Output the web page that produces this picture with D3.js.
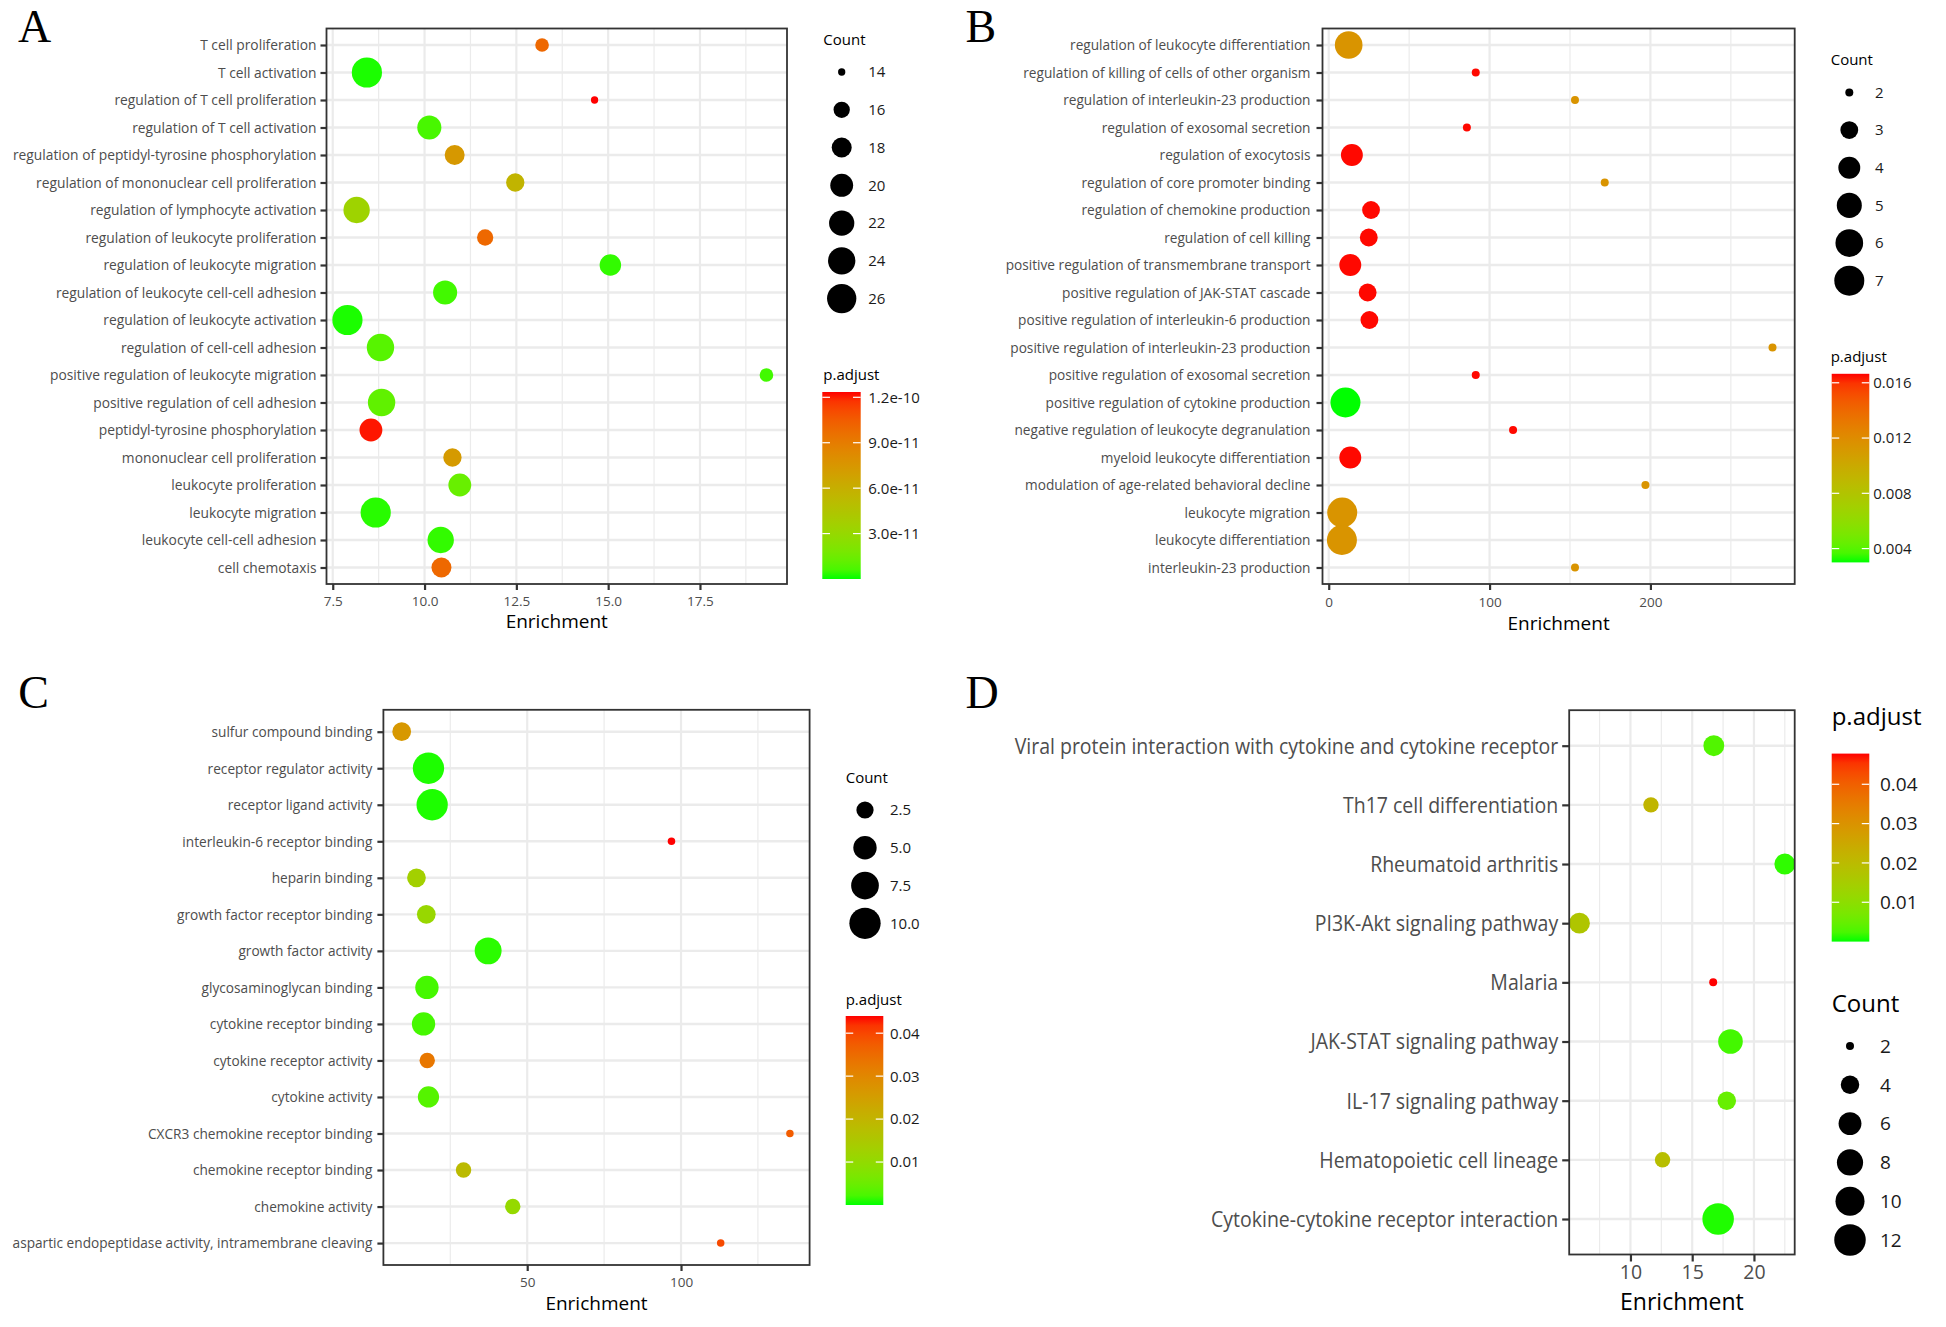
<!DOCTYPE html>
<html><head><meta charset="utf-8">
<script src="https://cdn.jsdelivr.net/npm/d3@7"></script>
<style>body{margin:0;background:#fff}</style>
</head><body>
<script>
// ================= DATA =================
// Panel A
const termsA = ["T cell proliferation","T cell activation","regulation of T cell proliferation","regulation of T cell activation","regulation of peptidyl-tyrosine phosphorylation","regulation of mononuclear cell proliferation","regulation of lymphocyte activation","regulation of leukocyte proliferation","regulation of leukocyte migration","regulation of leukocyte cell-cell adhesion","regulation of leukocyte activation","regulation of cell-cell adhesion","positive regulation of leukocyte migration","positive regulation of cell adhesion","peptidyl-tyrosine phosphorylation","mononuclear cell proliferation","leukocyte proliferation","leukocyte migration","leukocyte cell-cell adhesion","cell chemotaxis"];
const enrichA = [13.2,8.43,14.63,10.13,10.82,12.47,8.15,11.65,15.06,10.56,7.9,8.8,19.31,8.83,8.54,10.76,10.96,8.67,10.44,10.46];
const countA  = [15,27,14,21,18,17,23,16,19,21,27,24,15,24,20,17,20,27,23,18];
const padjA   = [1.0e-10,1e-12,1.235e-10,6e-12,7.4e-11,5.6e-11,3.4e-11,1.0e-10,3e-12,5e-12,1e-12,9e-12,5e-12,1.1e-11,1.22e-10,7.3e-11,1.3e-11,2e-12,3e-12,1.0e-10];
const ticksA = [7.5,10,12.5,15,17.5];
const tickLabelsA = ["7.5","10.0","12.5","15.0","17.5"];
const sizeBreaksA = [14,16,18,20,22,24,26];
const sizeLabelsA = ["14","16","18","20","22","24","26"];
const colorBreaksA = [3e-11,6e-11,9e-11,1.2e-10];
const colorLabelsA = ["3.0e-11","6.0e-11","9.0e-11","1.2e-10"];

// Panel B
const termsB = ["regulation of leukocyte differentiation","regulation of killing of cells of other organism","regulation of interleukin-23 production","regulation of exosomal secretion","regulation of exocytosis","regulation of core promoter binding","regulation of chemokine production","regulation of cell killing","positive regulation of transmembrane transport","positive regulation of JAK-STAT cascade","positive regulation of interleukin-6 production","positive regulation of interleukin-23 production","positive regulation of exosomal secretion","positive regulation of cytokine production","negative regulation of leukocyte degranulation","myeloid leukocyte differentiation","modulation of age-related behavioral decline","leukocyte migration","leukocyte differentiation","interleukin-23 production"];
const enrichB = [12.4,91.4,153.1,85.9,14.4,171.6,26.3,24.9,13.4,24.2,25.3,275.9,91.4,10.4,114.6,13.4,196.9,8.4,8.2,153.1];
const countB  = [6,2,2,2,4,2,3,3,4,3,3,2,2,7,2,4,2,7,7,2];
const padjB   = [0.0115,0.0166,0.0115,0.0166,0.0166,0.0115,0.0166,0.0166,0.0166,0.0166,0.0166,0.0115,0.0166,0.003,0.0166,0.0166,0.0115,0.0115,0.0115,0.0115];
const ticksB = [0,100,200];
const tickLabelsB = ["0","100","200"];
const sizeBreaksB = [2,3,4,5,6,7];
const sizeLabelsB = ["2","3","4","5","6","7"];
const colorBreaksB = [0.004,0.008,0.012,0.016];
const colorLabelsB = ["0.004","0.008","0.012","0.016"];

// Panel C
const termsC = ["sulfur compound binding","receptor regulator activity","receptor ligand activity","interleukin-6 receptor binding","heparin binding","growth factor receptor binding","growth factor activity","glycosaminoglycan binding","cytokine receptor binding","cytokine receptor activity","cytokine activity","CXCR3 chemokine receptor binding","chemokine receptor binding","chemokine activity","aspartic endopeptidase activity, intramembrane cleaving"];
const enrichC = [9.2,17.9,19.1,96.9,14.0,17.2,37.3,17.4,16.3,17.5,17.9,135.4,29.3,45.3,112.9];
const countC  = [3,10,10,1,3,3,7,5,5,2,4,1,2,2,1];
const padjC   = [0.0265,0.0004,0.0004,0.044,0.013,0.011,0.0008,0.002,0.002,0.033,0.003,0.0374,0.0185,0.0105,0.0396];
const ticksC = [50,100];
const tickLabelsC = ["50","100"];
const sizeBreaksC = [2.5,5,7.5,10];
const sizeLabelsC = ["2.5","5.0","7.5","10.0"];
const colorBreaksC = [0.01,0.02,0.03,0.04];
const colorLabelsC = ["0.01","0.02","0.03","0.04"];

// Panel D
const termsD = ["Viral protein interaction with cytokine and cytokine receptor","Th17 cell differentiation","Rheumatoid arthritis","PI3K-Akt signaling pathway","Malaria","JAK-STAT signaling pathway","IL-17 signaling pathway","Hematopoietic cell lineage","Cytokine-cytokine receptor interaction"];
const enrichD = [16.75,11.66,22.5,5.87,16.7,18.1,17.8,12.6,17.1];
const countD  = [5,3,5,5,2,7,4,3,12];
const padjD   = [0.003,0.0215,0.001,0.017,0.0478,0.002,0.005,0.019,0.0005];
const ticksD = [10,15,20];
const tickLabelsD = ["10","15","20"];
const sizeBreaksD = [2,4,6,8,10,12];
const sizeLabelsD = ["2","4","6","8","10","12"];
const colorBreaksD = [0.01,0.02,0.03,0.04];
const colorLabelsD = ["0.01","0.02","0.03","0.04"];

// ================= LAYOUT =================
const FONT = "'Open Sans','Noto Sans',sans-serif";
const W = 1946, H = 1327;
const svg = d3.select("body").append("svg").attr("width",W).attr("height",H).style("display","block");
svg.append("rect").attr("width",W).attr("height",H).attr("fill","#fff");
const defs = svg.append("defs");

const panels = [
 {id:"A", letter:[18,42], terms:termsA, enrich:enrichA, count:countA, padj:padjA,
  l:326.5, r:787, t:28.5, b:584, xDomain:[7.33,19.87], ticks:ticksA, tickLabels:tickLabelsA,
  labelSize:14, labelGap:10, labelTarget:304, tickLen:6, tickFont:13.5, tickBase:606, titleFont:19, titleBase:628.3,
  cMin:14, cMax:27, rMin:3.65, rMax:15.1, pDomain:[0,1.235e-10],
  sizeLeg:{tx:823.3, ty:45.1, cx:841.7, lx:868.3, y0:72, y1:298.6, breaks:sizeBreaksA, labels:sizeLabelsA, font:15, tfont:15},
  colLeg:{tx:823.3, ty:379.8, x0:822.3, x1:860.7, y0:392, y1:579, lx:868.3, breaks:colorBreaksA, labels:colorLabelsA, font:15, tfont:15}},
 {id:"B", letter:[965.4,42], terms:termsB, enrich:enrichB, count:countB, padj:padjB,
  l:1322.5, r:1794.7, t:28.5, b:584, xDomain:[-3.87,289.7], ticks:ticksB, tickLabels:tickLabelsB,
  labelSize:14, labelGap:12, labelTarget:305, tickLen:6, tickFont:13.5, tickBase:606.7, titleFont:19, titleBase:630,
  cMin:2, cMax:7, rMin:4, rMax:15, pDomain:[0.003,0.01665],
  sizeLeg:{tx:1830.7, ty:64.8, cx:1849.3, lx:1875, y0:92.4, y1:280.7, breaks:sizeBreaksB, labels:sizeLabelsB, font:15, tfont:15},
  colLeg:{tx:1830.7, ty:362.4, x0:1831.7, x1:1869.3, y0:373.8, y1:562.4, lx:1873.3, breaks:colorBreaksB, labels:colorLabelsB, font:15, tfont:15}},
 {id:"C", letter:[18.3,708.3], terms:termsC, enrich:enrichC, count:countC, padj:padjC,
  l:383.4, r:809.6, t:709.8, b:1265, xDomain:[3.25,141.8], ticks:ticksC, tickLabels:tickLabelsC,
  labelSize:14, labelGap:11, labelTarget:360, tickLen:6, tickFont:13.5, tickBase:1286.7, titleFont:19, titleBase:1310,
  cMin:1, cMax:10, rMin:3.75, rMax:15.65, pDomain:[0,0.044],
  sizeLeg:{tx:845.7, ty:783.3, cx:865, lx:890, y0:810, y1:923.3, breaks:sizeBreaksC, labels:sizeLabelsC, font:15, tfont:15},
  colLeg:{tx:845.7, ty:1005, x0:845.7, x1:883.3, y0:1016, y1:1205, lx:890, breaks:colorBreaksC, labels:colorLabelsC, font:15, tfont:15}},
 {id:"D", letter:[965.4,708], terms:termsD, enrich:enrichD, count:countD, padj:padjD,
  l:1569.2, r:1794.7, t:710.2, b:1254.5, xDomain:[5.04,23.3], ticks:ticksD, tickLabels:tickLabelsD,
  labelSize:21, labelGap:11, labelTarget:544, tickLen:7, tickFont:19.5, tickBase:1279, titleFont:23, titleBase:1310,
  cMin:2, cMax:12, rMin:4, rMax:15.75, pDomain:[0,0.0478],
  sizeLeg:{tx:1831.7, ty:1011.8, cx:1850, lx:1880, y0:1046, y1:1240, breaks:sizeBreaksD, labels:sizeLabelsD, font:19, tfont:24},
  colLeg:{tx:1831.7, ty:724.5, x0:1831.7, x1:1869.3, y0:753.6, y1:941.6, lx:1880, breaks:colorBreaksD, labels:colorLabelsD, font:19, tfont:24}}
];

function maxTextWidth(sel){
  let m = 0;
  sel.each(function(){ m = Math.max(m, this.getComputedTextLength()); });
  return m;
}

function drawPanel(p){
  const g = svg.append("g").attr("class","panel-"+p.id);
  const x = d3.scaleLinear().domain(p.xDomain).range([p.l, p.r]);
  const y = d3.scalePoint().domain(p.terms).range([p.t, p.b]).padding(0.6);
  const rS = d3.scaleSqrt().domain([0, p.cMax - p.cMin]).range([0, p.rMax - p.rMin]);
  const rad = c => p.rMin + rS(Math.max(0, c - p.cMin));
  const col = d3.scaleLinear().domain(p.pDomain).range(["#00ff00","#ff0000"]).interpolate(d3.interpolateLab).clamp(true);

  // panel letter
  svg.append("text").attr("x",p.letter[0]).attr("y",p.letter[1])
    .attr("font-family","'Liberation Serif','Times New Roman',serif").attr("font-size",46).attr("fill","#000").text(p.id);

  // grid
  const step = p.ticks.length > 1 ? p.ticks[1]-p.ticks[0] : 1;
  const minors = d3.range(-6, 12).map(k => p.ticks[0] - step/2 + k*step)
                   .filter(v => v > p.xDomain[0] && v < p.xDomain[1]);
  g.append("g").selectAll("line").data(minors).join("line")
    .attr("x1",d=>x(d)).attr("x2",d=>x(d)).attr("y1",p.t).attr("y2",p.b)
    .attr("stroke","#ebebeb").attr("stroke-width",1.2);
  g.append("g").selectAll("line").data(p.ticks).join("line")
    .attr("x1",d=>x(d)).attr("x2",d=>x(d)).attr("y1",p.t).attr("y2",p.b)
    .attr("stroke","#ebebeb").attr("stroke-width",2.2);
  g.append("g").selectAll("line").data(p.terms).join("line")
    .attr("x1",p.l).attr("x2",p.r).attr("y1",d=>y(d)).attr("y2",d=>y(d))
    .attr("stroke","#ebebeb").attr("stroke-width",2.4);

  // points
  const clipId = "clip"+p.id;
  defs.append("clipPath").attr("id",clipId).append("rect")
    .attr("x",p.l).attr("y",p.t).attr("width",p.r-p.l).attr("height",p.b-p.t);
  g.append("g").attr("clip-path",`url(#${clipId})`).selectAll("circle")
    .data(d3.range(p.terms.length)).join("circle")
    .attr("cx",i=>x(p.enrich[i])).attr("cy",i=>y(p.terms[i]))
    .attr("r",i=>rad(p.count[i])).attr("fill",i=>col(p.padj[i]));

  // frame
  g.append("rect").attr("x",p.l).attr("y",p.t).attr("width",p.r-p.l).attr("height",p.b-p.t)
    .attr("fill","none").attr("stroke","#333").attr("stroke-width",1.8);

  // y axis
  const ya = g.append("g").attr("transform",`translate(${p.l},0)`)
    .call(d3.axisLeft(y).tickSize(p.tickLen).tickPadding(4));
  ya.select(".domain").remove();
  ya.selectAll(".tick line").attr("stroke","#333").attr("stroke-width",2.2);
  const yt = ya.selectAll(".tick text").attr("x",0).attr("dy","0.35em")
    .attr("font-family",FONT).attr("font-size",p.labelSize).attr("fill","#4d4d4d").attr("text-anchor","end");
  let kx = p.labelTarget / maxTextWidth(yt);
  kx = Math.max(0.8, Math.min(1.2, kx));
  yt.attr("transform",`translate(${-p.labelGap},0) scale(${kx},1)`);

  // x axis
  const xa = g.append("g").attr("transform",`translate(0,${p.b})`)
    .call(d3.axisBottom(x).tickValues(p.ticks).tickFormat((d,i)=>p.tickLabels[i]).tickSize(p.tickLen));
  xa.select(".domain").remove();
  xa.selectAll(".tick line").attr("stroke","#333").attr("stroke-width",2.2);
  xa.selectAll(".tick text").attr("y",p.tickBase - p.b).attr("dy",0)
    .attr("font-family",FONT).attr("font-size",p.tickFont).attr("fill","#4d4d4d");

  g.append("text").attr("x",(p.l+p.r)/2).attr("y",p.titleBase).attr("text-anchor","middle")
    .attr("font-family",FONT).attr("font-size",p.titleFont).attr("fill","#000").text("Enrichment");

  // size legend
  const s = p.sizeLeg;
  const sy = d3.scalePoint().domain(s.breaks).range([s.y0, s.y1]);
  const sg = g.append("g");
  sg.append("text").attr("x",s.tx).attr("y",s.ty).attr("font-family",FONT).attr("font-size",s.tfont).attr("fill","#000").text("Count");
  sg.selectAll("circle").data(s.breaks).join("circle")
    .attr("cx",s.cx).attr("cy",d=>sy(d)).attr("r",d=>rad(d)).attr("fill","#000");
  sg.selectAll("text.lab").data(s.breaks).join("text").attr("class","lab")
    .attr("x",s.lx).attr("y",d=>sy(d)).attr("dy","0.36em")
    .attr("font-family",FONT).attr("font-size",s.font).attr("fill","#1a1a1a").text((d,i)=>s.labels[i]);

  // color legend
  const c = p.colLeg;
  const cy = d3.scaleLinear().domain(p.pDomain).range([c.y1, c.y0]);
  const gid = "grad"+p.id;
  const grad = defs.append("linearGradient").attr("id",gid).attr("x1",0).attr("y1",1).attr("x2",0).attr("y2",0);
  d3.range(0,1.0001,0.05).forEach(t => grad.append("stop").attr("offset",t)
      .attr("stop-color", col(p.pDomain[0] + t*(p.pDomain[1]-p.pDomain[0]))));
  const cg = g.append("g");
  cg.append("text").attr("x",c.tx).attr("y",c.ty).attr("font-family",FONT).attr("font-size",c.tfont).attr("fill","#000").text("p.adjust");
  cg.append("rect").attr("x",c.x0).attr("y",c.y0).attr("width",c.x1-c.x0).attr("height",c.y1-c.y0).attr("fill",`url(#${gid})`);
  const tl = (c.x1-c.x0)/5;
  cg.selectAll("line.l").data(c.breaks).join("line").attr("class","l")
    .attr("x1",c.x0).attr("x2",c.x0+tl).attr("y1",d=>cy(d)).attr("y2",d=>cy(d)).attr("stroke","#fff").attr("stroke-width",1.2);
  cg.selectAll("line.r").data(c.breaks).join("line").attr("class","r")
    .attr("x1",c.x1-tl).attr("x2",c.x1).attr("y1",d=>cy(d)).attr("y2",d=>cy(d)).attr("stroke","#fff").attr("stroke-width",1.2);
  cg.selectAll("text.lab").data(c.breaks).join("text").attr("class","lab")
    .attr("x",c.lx).attr("y",d=>cy(d)).attr("dy","0.36em")
    .attr("font-family",FONT).attr("font-size",c.font).attr("fill","#1a1a1a").text((d,i)=>c.labels[i]);
}

panels.forEach(drawPanel);
</script>
</body></html>
